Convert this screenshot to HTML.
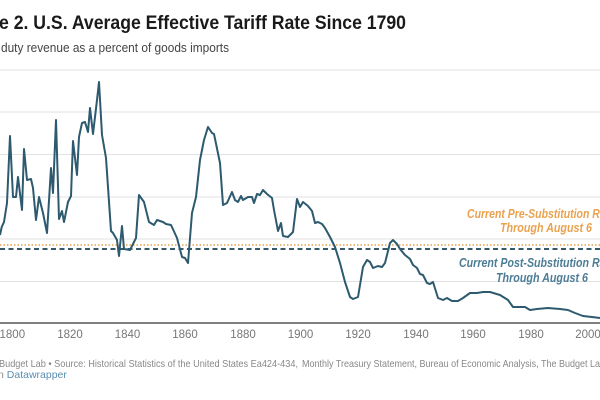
<!DOCTYPE html>
<html><head><meta charset="utf-8"><style>
html,body{margin:0;padding:0;background:#fff;}
svg{display:block;font-family:"Liberation Sans",sans-serif;}
</style></head><body>
<svg width="600" height="400" viewBox="0 0 600 400" xmlns="http://www.w3.org/2000/svg">
<rect width="600" height="400" fill="#fff"/>
<text x="-1" y="29" font-size="19.5" font-weight="bold" fill="#1a1a1a" textLength="407" lengthAdjust="spacingAndGlyphs">e 2. U.S. Average Effective Tariff Rate Since 1790</text>
<text x="1" y="52" font-size="12.5" fill="#444" textLength="228" lengthAdjust="spacingAndGlyphs">duty revenue as a percent of goods imports</text>
<g stroke="#e2e2e2" stroke-width="1">
<line x1="0" y1="70" x2="600" y2="70"/>
<line x1="0" y1="112" x2="600" y2="112"/>
<line x1="0" y1="154.5" x2="600" y2="154.5"/>
<line x1="0" y1="197" x2="600" y2="197"/>
<line x1="0" y1="239" x2="600" y2="239"/>
<line x1="0" y1="281.5" x2="600" y2="281.5"/>
</g>
<line x1="0" y1="245" x2="600" y2="245" stroke="#e3a04c" stroke-width="1.6" stroke-dasharray="1.5,2"/>
<line x1="0" y1="249" x2="600" y2="249" stroke="#35596b" stroke-width="2" stroke-dasharray="5,3.5"/>
<polyline fill="none" stroke="#2d5a6e" stroke-width="2" stroke-linejoin="round" points="0,235 1.7,227 4,222 7,203 10,136 13,197 16,197 18,177 22,210 24,149 27,180 31,179 33,188 36,220 39,197 43,213 47,233 51,168 53,193 56,120 59,219 62,211 64,222 68,202 71,196 73,141 77,175 79,137 82,123 85,122 88,132 90,108 93,134 97,100 99,82 102,135 106,158 111,231 113,233 117,240 119,256 122,226 124,249 130,250 136,238 139,195 144,202 149,222 154,225 157,220 163,222 166,224 171,225 177,238 182,257 185,258 188,263 192,213 196,197 200,160 204,140 208,127 212,133 214,134 220,163 223,205 227,203 232,192 235,200 238,202 241,196 243,200 248,197 252,197 254,203 257,194 260,195 263,190 267,194 272,198 274,210 278,231 281,223 283,236 288,237 293,232 297,199 300,207 303,202 308,206 312,211 315,223 318,222 322,224 325,228 330,237 335,247 340,263 345,282 350,297 353,299 358,297 363,267 367,260 370,262 373,268 378,266 382,267 385,263 390,243 393,240 397,244 400,249 405,255 410,259 413,265 417,268 420,274 423,275 427,283 430,284 433,282 438,298 443,300 447,298 452,301 458,301 463,298 470,293 477,293 483,292 490,292 500,295 508,300 513,307 520,307 525,307 530,310 537,309 548,308 560,309 568,310 575,313 583,316 592,317 600,318"/>
<line x1="0" y1="323" x2="600" y2="323" stroke="#333" stroke-width="1.2"/>
<g font-size="11.5" fill="#777" text-anchor="middle">
<text x="12.3" y="338">1800</text><text x="70" y="338">1820</text><text x="127.5" y="338">1840</text><text x="185" y="338">1860</text><text x="243" y="338">1880</text><text x="300.5" y="338">1900</text><text x="358" y="338">1920</text><text x="416" y="338">1940</text><text x="473" y="338">1960</text><text x="531" y="338">1980</text><text x="588" y="338">2000</text>
</g>
<g font-size="13" font-weight="bold" font-style="italic">
<text x="467" y="218" fill="#e9a24f" textLength="148" lengthAdjust="spacingAndGlyphs">Current Pre-Substitution Rate</text>
<text x="500" y="232" fill="#e9a24f" textLength="92" lengthAdjust="spacingAndGlyphs">Through August 6</text>
<text x="459" y="267" fill="#4d7d96" textLength="156" lengthAdjust="spacingAndGlyphs">Current Post-Substitution Rate</text>
<text x="496" y="282" fill="#4d7d96" textLength="92" lengthAdjust="spacingAndGlyphs">Through August 6</text>
</g>
<g font-size="10.5" fill="#888">
<text x="-1" y="367" textLength="299" lengthAdjust="spacingAndGlyphs">Budget Lab • Source: Historical Statistics of the United States Ea424-434,</text>
<text x="302" y="367" textLength="303" lengthAdjust="spacingAndGlyphs">Monthly Treasury Statement, Bureau of Economic Analysis, The Budget Lab</text>
<text x="-2" y="378">n <tspan fill="#5a8db0">Datawrapper</tspan></text>
</g>
</svg>
</body></html>
